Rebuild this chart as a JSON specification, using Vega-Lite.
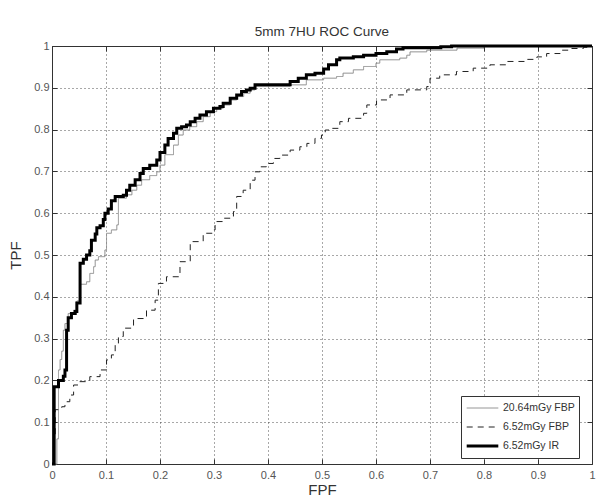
{
  "$schema": "https://vega.github.io/schema/vega-lite/v6.json",
  "width": 540,
  "height": 418,
  "autosize": {"type": "none"},
  "padding": {"left": 52, "top": 46, "right": 10, "bottom": 36},
  "background": "white",
  "title": {"text": "5mm 7HU ROC Curve", "fontSize": 13.5, "fontWeight": "normal", "color": "#333", "font": "Liberation Sans", "offset": 2},
  "config": {
    "view": {"stroke": "#333", "strokeWidth": 1},
    "axis": {"labelFont": "Liberation Sans", "labelFontSize": 11, "labelColor": "#555", "titleFont": "Liberation Sans", "titleFontWeight": "normal", "titleColor": "#333", "titleFontSize": 15, "domain": false, "tickColor": "#333", "gridColor": "#333", "gridDash": [1, 3], "gridOpacity": 0.85},
    "legend": {"labelFont": "Liberation Sans", "labelFontSize": 10.5, "labelColor": "#333"}
  },
  "datasets": {
    "roc": [
      {"s": "6.52mGy FBP", "x": 0, "y": 0}, {"s": "6.52mGy FBP", "x": 0.003, "y": 0.06}, {"s": "6.52mGy FBP", "x": 0.006, "y": 0.13}, {"s": "6.52mGy FBP", "x": 0.018, "y": 0.137}, {"s": "6.52mGy FBP", "x": 0.024, "y": 0.149}, {"s": "6.52mGy FBP", "x": 0.033, "y": 0.165}, {"s": "6.52mGy FBP", "x": 0.04, "y": 0.189}, {"s": "6.52mGy FBP", "x": 0.049, "y": 0.197}, {"s": "6.52mGy FBP", "x": 0.07, "y": 0.209}, {"s": "6.52mGy FBP", "x": 0.089, "y": 0.225}, {"s": "6.52mGy FBP", "x": 0.101, "y": 0.249}, {"s": "6.52mGy FBP", "x": 0.11, "y": 0.261}, {"s": "6.52mGy FBP", "x": 0.117, "y": 0.285}, {"s": "6.52mGy FBP", "x": 0.123, "y": 0.305}, {"s": "6.52mGy FBP", "x": 0.132, "y": 0.325}, {"s": "6.52mGy FBP", "x": 0.151, "y": 0.348}, {"s": "6.52mGy FBP", "x": 0.175, "y": 0.368}, {"s": "6.52mGy FBP", "x": 0.191, "y": 0.392}, {"s": "6.52mGy FBP", "x": 0.197, "y": 0.432}, {"s": "6.52mGy FBP", "x": 0.212, "y": 0.448}, {"s": "6.52mGy FBP", "x": 0.237, "y": 0.484}, {"s": "6.52mGy FBP", "x": 0.256, "y": 0.532}, {"s": "6.52mGy FBP", "x": 0.28, "y": 0.552}, {"s": "6.52mGy FBP", "x": 0.299, "y": 0.56}, {"s": "6.52mGy FBP", "x": 0.302, "y": 0.58}, {"s": "6.52mGy FBP", "x": 0.317, "y": 0.588}, {"s": "6.52mGy FBP", "x": 0.336, "y": 0.604}, {"s": "6.52mGy FBP", "x": 0.342, "y": 0.64}, {"s": "6.52mGy FBP", "x": 0.354, "y": 0.655}, {"s": "6.52mGy FBP", "x": 0.367, "y": 0.679}, {"s": "6.52mGy FBP", "x": 0.376, "y": 0.699}, {"s": "6.52mGy FBP", "x": 0.385, "y": 0.711}, {"s": "6.52mGy FBP", "x": 0.397, "y": 0.719}, {"s": "6.52mGy FBP", "x": 0.41, "y": 0.731}, {"s": "6.52mGy FBP", "x": 0.422, "y": 0.739}, {"s": "6.52mGy FBP", "x": 0.441, "y": 0.751}, {"s": "6.52mGy FBP", "x": 0.459, "y": 0.759}, {"s": "6.52mGy FBP", "x": 0.472, "y": 0.767}, {"s": "6.52mGy FBP", "x": 0.487, "y": 0.779}, {"s": "6.52mGy FBP", "x": 0.499, "y": 0.787}, {"s": "6.52mGy FBP", "x": 0.506, "y": 0.799}, {"s": "6.52mGy FBP", "x": 0.515, "y": 0.803}, {"s": "6.52mGy FBP", "x": 0.533, "y": 0.819}, {"s": "6.52mGy FBP", "x": 0.549, "y": 0.827}, {"s": "6.52mGy FBP", "x": 0.577, "y": 0.839}, {"s": "6.52mGy FBP", "x": 0.583, "y": 0.859}, {"s": "6.52mGy FBP", "x": 0.601, "y": 0.871}, {"s": "6.52mGy FBP", "x": 0.626, "y": 0.883}, {"s": "6.52mGy FBP", "x": 0.657, "y": 0.895}, {"s": "6.52mGy FBP", "x": 0.694, "y": 0.903}, {"s": "6.52mGy FBP", "x": 0.7, "y": 0.923}, {"s": "6.52mGy FBP", "x": 0.718, "y": 0.931}, {"s": "6.52mGy FBP", "x": 0.749, "y": 0.939}, {"s": "6.52mGy FBP", "x": 0.78, "y": 0.947}, {"s": "6.52mGy FBP", "x": 0.811, "y": 0.955}, {"s": "6.52mGy FBP", "x": 0.842, "y": 0.963}, {"s": "6.52mGy FBP", "x": 0.879, "y": 0.968}, {"s": "6.52mGy FBP", "x": 0.898, "y": 0.974}, {"s": "6.52mGy FBP", "x": 0.916, "y": 0.982}, {"s": "6.52mGy FBP", "x": 0.941, "y": 0.99}, {"s": "6.52mGy FBP", "x": 0.96, "y": 0.994}, {"s": "6.52mGy FBP", "x": 0.984, "y": 0.997}, {"s": "6.52mGy FBP", "x": 1, "y": 1},

      {"s": "20.64mGy FBP", "x": 0, "y": 0}, {"s": "20.64mGy FBP", "x": 0.009, "y": 0.06}, {"s": "20.64mGy FBP", "x": 0.012, "y": 0.225}, {"s": "20.64mGy FBP", "x": 0.015, "y": 0.25}, {"s": "20.64mGy FBP", "x": 0.018, "y": 0.27}, {"s": "20.64mGy FBP", "x": 0.021, "y": 0.32}, {"s": "20.64mGy FBP", "x": 0.024, "y": 0.336}, {"s": "20.64mGy FBP", "x": 0.03, "y": 0.36}, {"s": "20.64mGy FBP", "x": 0.04, "y": 0.368}, {"s": "20.64mGy FBP", "x": 0.046, "y": 0.39}, {"s": "20.64mGy FBP", "x": 0.052, "y": 0.43}, {"s": "20.64mGy FBP", "x": 0.064, "y": 0.436}, {"s": "20.64mGy FBP", "x": 0.07, "y": 0.456}, {"s": "20.64mGy FBP", "x": 0.077, "y": 0.472}, {"s": "20.64mGy FBP", "x": 0.08, "y": 0.488}, {"s": "20.64mGy FBP", "x": 0.086, "y": 0.496}, {"s": "20.64mGy FBP", "x": 0.098, "y": 0.512}, {"s": "20.64mGy FBP", "x": 0.101, "y": 0.552}, {"s": "20.64mGy FBP", "x": 0.11, "y": 0.56}, {"s": "20.64mGy FBP", "x": 0.12, "y": 0.572}, {"s": "20.64mGy FBP", "x": 0.123, "y": 0.636}, {"s": "20.64mGy FBP", "x": 0.138, "y": 0.644}, {"s": "20.64mGy FBP", "x": 0.148, "y": 0.655}, {"s": "20.64mGy FBP", "x": 0.157, "y": 0.667}, {"s": "20.64mGy FBP", "x": 0.166, "y": 0.68}, {"s": "20.64mGy FBP", "x": 0.181, "y": 0.69}, {"s": "20.64mGy FBP", "x": 0.194, "y": 0.699}, {"s": "20.64mGy FBP", "x": 0.2, "y": 0.715}, {"s": "20.64mGy FBP", "x": 0.209, "y": 0.74}, {"s": "20.64mGy FBP", "x": 0.225, "y": 0.763}, {"s": "20.64mGy FBP", "x": 0.234, "y": 0.787}, {"s": "20.64mGy FBP", "x": 0.243, "y": 0.799}, {"s": "20.64mGy FBP", "x": 0.255, "y": 0.807}, {"s": "20.64mGy FBP", "x": 0.268, "y": 0.819}, {"s": "20.64mGy FBP", "x": 0.28, "y": 0.831}, {"s": "20.64mGy FBP", "x": 0.293, "y": 0.843}, {"s": "20.64mGy FBP", "x": 0.305, "y": 0.851}, {"s": "20.64mGy FBP", "x": 0.317, "y": 0.859}, {"s": "20.64mGy FBP", "x": 0.33, "y": 0.871}, {"s": "20.64mGy FBP", "x": 0.342, "y": 0.879}, {"s": "20.64mGy FBP", "x": 0.355, "y": 0.887}, {"s": "20.64mGy FBP", "x": 0.367, "y": 0.895}, {"s": "20.64mGy FBP", "x": 0.376, "y": 0.903}, {"s": "20.64mGy FBP", "x": 0.441, "y": 0.907}, {"s": "20.64mGy FBP", "x": 0.471, "y": 0.919}, {"s": "20.64mGy FBP", "x": 0.503, "y": 0.923}, {"s": "20.64mGy FBP", "x": 0.527, "y": 0.927}, {"s": "20.64mGy FBP", "x": 0.539, "y": 0.935}, {"s": "20.64mGy FBP", "x": 0.558, "y": 0.943}, {"s": "20.64mGy FBP", "x": 0.577, "y": 0.951}, {"s": "20.64mGy FBP", "x": 0.6, "y": 0.959}, {"s": "20.64mGy FBP", "x": 0.607, "y": 0.967}, {"s": "20.64mGy FBP", "x": 0.644, "y": 0.971}, {"s": "20.64mGy FBP", "x": 0.657, "y": 0.978}, {"s": "20.64mGy FBP", "x": 0.663, "y": 0.986}, {"s": "20.64mGy FBP", "x": 0.694, "y": 0.99}, {"s": "20.64mGy FBP", "x": 0.75, "y": 0.995}, {"s": "20.64mGy FBP", "x": 0.8, "y": 1}, {"s": "20.64mGy FBP", "x": 1, "y": 1},

      {"s": "6.52mGy IR", "x": 0, "y": 0}, {"s": "6.52mGy IR", "x": 0.004, "y": 0.185}, {"s": "6.52mGy IR", "x": 0.012, "y": 0.2}, {"s": "6.52mGy IR", "x": 0.021, "y": 0.21}, {"s": "6.52mGy IR", "x": 0.024, "y": 0.225}, {"s": "6.52mGy IR", "x": 0.027, "y": 0.32}, {"s": "6.52mGy IR", "x": 0.03, "y": 0.35}, {"s": "6.52mGy IR", "x": 0.036, "y": 0.36}, {"s": "6.52mGy IR", "x": 0.043, "y": 0.365}, {"s": "6.52mGy IR", "x": 0.046, "y": 0.385}, {"s": "6.52mGy IR", "x": 0.052, "y": 0.48}, {"s": "6.52mGy IR", "x": 0.058, "y": 0.49}, {"s": "6.52mGy IR", "x": 0.064, "y": 0.5}, {"s": "6.52mGy IR", "x": 0.07, "y": 0.51}, {"s": "6.52mGy IR", "x": 0.073, "y": 0.535}, {"s": "6.52mGy IR", "x": 0.08, "y": 0.55}, {"s": "6.52mGy IR", "x": 0.083, "y": 0.565}, {"s": "6.52mGy IR", "x": 0.089, "y": 0.57}, {"s": "6.52mGy IR", "x": 0.095, "y": 0.585}, {"s": "6.52mGy IR", "x": 0.098, "y": 0.6}, {"s": "6.52mGy IR", "x": 0.104, "y": 0.61}, {"s": "6.52mGy IR", "x": 0.11, "y": 0.63}, {"s": "6.52mGy IR", "x": 0.117, "y": 0.64}, {"s": "6.52mGy IR", "x": 0.132, "y": 0.643}, {"s": "6.52mGy IR", "x": 0.138, "y": 0.655}, {"s": "6.52mGy IR", "x": 0.144, "y": 0.667}, {"s": "6.52mGy IR", "x": 0.154, "y": 0.68}, {"s": "6.52mGy IR", "x": 0.163, "y": 0.695}, {"s": "6.52mGy IR", "x": 0.169, "y": 0.707}, {"s": "6.52mGy IR", "x": 0.181, "y": 0.715}, {"s": "6.52mGy IR", "x": 0.194, "y": 0.727}, {"s": "6.52mGy IR", "x": 0.2, "y": 0.745}, {"s": "6.52mGy IR", "x": 0.209, "y": 0.763}, {"s": "6.52mGy IR", "x": 0.215, "y": 0.779}, {"s": "6.52mGy IR", "x": 0.225, "y": 0.791}, {"s": "6.52mGy IR", "x": 0.231, "y": 0.803}, {"s": "6.52mGy IR", "x": 0.24, "y": 0.807}, {"s": "6.52mGy IR", "x": 0.249, "y": 0.811}, {"s": "6.52mGy IR", "x": 0.256, "y": 0.819}, {"s": "6.52mGy IR", "x": 0.265, "y": 0.827}, {"s": "6.52mGy IR", "x": 0.274, "y": 0.835}, {"s": "6.52mGy IR", "x": 0.286, "y": 0.843}, {"s": "6.52mGy IR", "x": 0.299, "y": 0.851}, {"s": "6.52mGy IR", "x": 0.311, "y": 0.855}, {"s": "6.52mGy IR", "x": 0.317, "y": 0.863}, {"s": "6.52mGy IR", "x": 0.33, "y": 0.875}, {"s": "6.52mGy IR", "x": 0.342, "y": 0.883}, {"s": "6.52mGy IR", "x": 0.351, "y": 0.891}, {"s": "6.52mGy IR", "x": 0.36, "y": 0.895}, {"s": "6.52mGy IR", "x": 0.367, "y": 0.899}, {"s": "6.52mGy IR", "x": 0.376, "y": 0.907}, {"s": "6.52mGy IR", "x": 0.429, "y": 0.907}, {"s": "6.52mGy IR", "x": 0.441, "y": 0.915}, {"s": "6.52mGy IR", "x": 0.456, "y": 0.923}, {"s": "6.52mGy IR", "x": 0.471, "y": 0.931}, {"s": "6.52mGy IR", "x": 0.487, "y": 0.935}, {"s": "6.52mGy IR", "x": 0.503, "y": 0.945}, {"s": "6.52mGy IR", "x": 0.512, "y": 0.955}, {"s": "6.52mGy IR", "x": 0.527, "y": 0.967}, {"s": "6.52mGy IR", "x": 0.533, "y": 0.971}, {"s": "6.52mGy IR", "x": 0.558, "y": 0.974}, {"s": "6.52mGy IR", "x": 0.577, "y": 0.978}, {"s": "6.52mGy IR", "x": 0.6, "y": 0.982}, {"s": "6.52mGy IR", "x": 0.62, "y": 0.986}, {"s": "6.52mGy IR", "x": 0.638, "y": 0.993}, {"s": "6.52mGy IR", "x": 0.65, "y": 0.996}, {"s": "6.52mGy IR", "x": 0.72, "y": 0.998}, {"s": "6.52mGy IR", "x": 0.74, "y": 1}, {"s": "6.52mGy IR", "x": 1, "y": 1}
    ]
  },
  "data": {"name": "roc"},
  "layer": [
    {
      "mark": {"type": "line", "interpolate": "step-after", "clip": false},
      "encoding": {
        "x": {"field": "x", "type": "quantitative", "scale": {"domain": [0, 1], "nice": false, "zero": false},
          "axis": {"title": "FPF", "values": [0, 0.1, 0.2, 0.3, 0.4, 0.5, 0.6, 0.7, 0.8, 0.9, 1], "labelExpr": "datum.value == 0 || datum.value == 1 ? format(datum.value, 'd') : format(datum.value, '.1f')", "tickSize": -5, "labelPadding": 10, "titlePadding": 2, "labelFlush": false}},
        "y": {"field": "y", "type": "quantitative", "scale": {"domain": [0, 1], "nice": false, "zero": false},
          "axis": {"title": "TPF", "values": [0, 0.1, 0.2, 0.3, 0.4, 0.5, 0.6, 0.7, 0.8, 0.9, 1], "labelExpr": "datum.value == 0 || datum.value == 1 ? format(datum.value, 'd') : format(datum.value, '.1f')", "tickSize": -5, "labelPadding": 8, "titlePadding": 10, "labelFlush": false}},
        "color": {"field": "s", "type": "nominal", "scale": {"domain": ["20.64mGy FBP", "6.52mGy FBP", "6.52mGy IR"], "range": ["#8a8a8a", "#222222", "#000000"]},
          "legend": {"title": null, "orient": "none", "legendX": 409, "legendY": 350, "symbolType": "stroke", "symbolSize": 1000, "clipHeight": 16, "strokeColor": "#333", "fillColor": "white", "padding": 4, "rowPadding": 3, "labelOffset": 3}},
        "strokeDash": {"field": "s", "type": "nominal", "scale": {"domain": ["20.64mGy FBP", "6.52mGy FBP", "6.52mGy IR"], "range": [[1, 0], [6, 5], [1, 0]]}},
        "strokeWidth": {"field": "s", "type": "nominal", "scale": {"type": "ordinal", "domain": ["20.64mGy FBP", "6.52mGy FBP", "6.52mGy IR"], "range": [1, 1, 3]}}
      }
    },
    {
      "mark": {"type": "line", "strokeOpacity": 0},
      "encoding": {
        "x": {"field": "x", "type": "quantitative", "scale": {"domain": [0, 1], "nice": false, "zero": false},
          "axis": {"orient": "top", "title": null, "labels": false, "grid": false, "values": [0, 0.1, 0.2, 0.3, 0.4, 0.5, 0.6, 0.7, 0.8, 0.9, 1], "tickSize": -5}},
        "y": {"field": "y", "type": "quantitative", "scale": {"domain": [0, 1], "nice": false, "zero": false},
          "axis": {"orient": "right", "title": null, "labels": false, "grid": false, "values": [0, 0.1, 0.2, 0.3, 0.4, 0.5, 0.6, 0.7, 0.8, 0.9, 1], "tickSize": -5}},
        "detail": {"field": "s", "type": "nominal"}
      }
    }
  ],
  "resolve": {"axis": {"x": "independent", "y": "independent"}}
}
